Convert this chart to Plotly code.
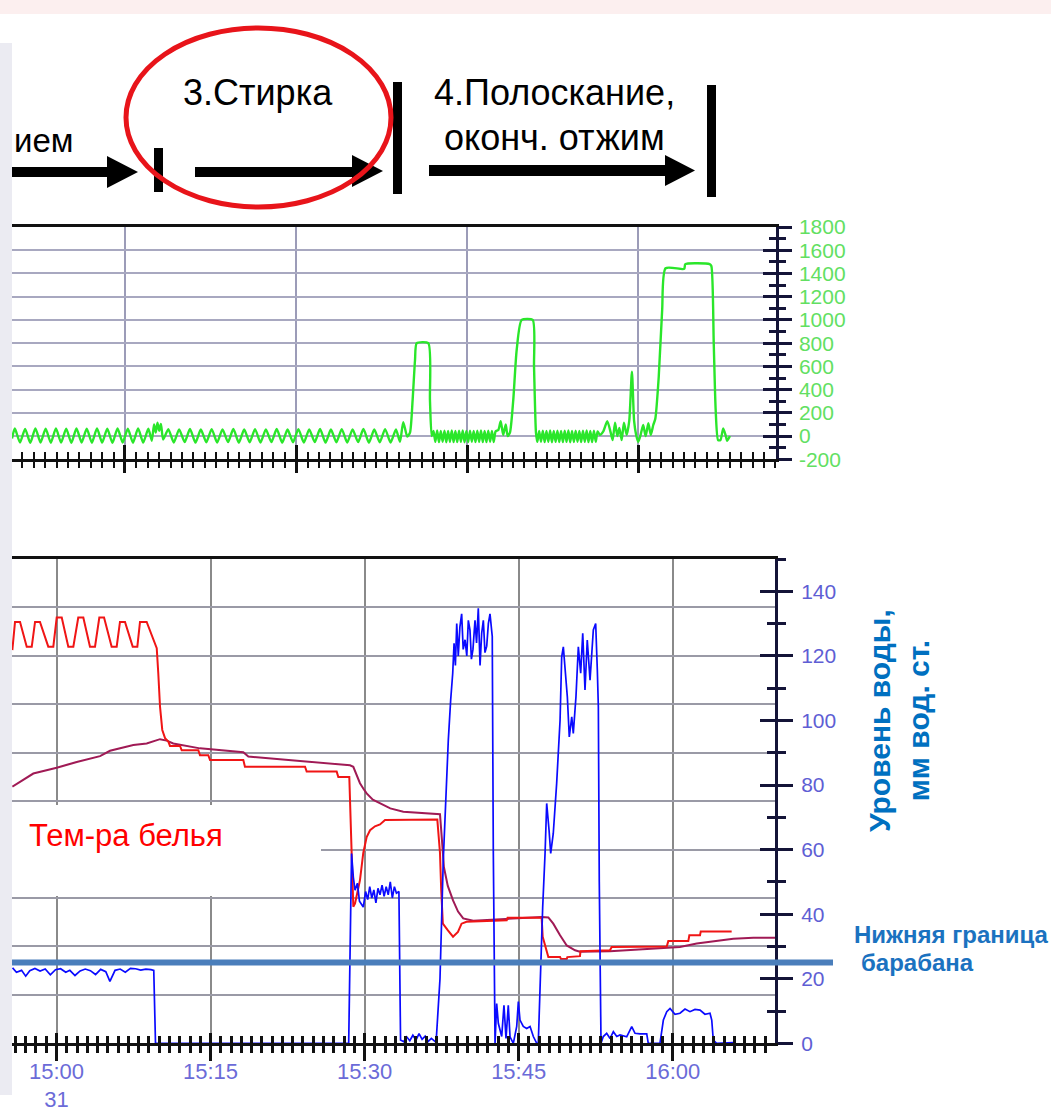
import plotly.graph_objects as go

W, H = 1051, 1115
FONT = "Liberation Sans, Arial, sans-serif"

# ---------------- data ----------------
# top panel: drum speed (rpm); time in minutes from the first grid line
spin_t = [-9.9, -9.65, -9.2, -8.75, -8.3, -7.85, -7.4, -6.95, -6.5, -6.05, -5.6, -5.15, -4.7, -4.25,
          -3.8, -3.35, -2.9, -2.45, -2.0, -1.55, -1.1, -0.65, -0.2, 0.25, 0.7, 1.15, 1.6, 2.05,
          2.35, 2.55, 2.7, 2.85, 3.0, 3.15, 3.35,
          3.8, 4.28, 4.75, 5.23, 5.7, 6.18, 6.65, 7.13, 7.6, 8.08, 8.55, 9.03, 9.5, 9.98, 10.45, 10.93,
          11.4, 11.88, 12.35, 12.83, 13.3, 13.78, 14.25, 14.73, 15.2, 15.68, 16.15, 16.63, 17.1, 17.58,
          18.05, 18.53, 19.0, 19.48, 19.95, 20.43, 20.9, 21.38, 21.85, 22.33, 22.8, 23.28, 23.75, 24.1,
          24.39, 24.74, 24.98, 25.21, 25.42, 25.57, 26.58, 26.73, 26.88,
          27.04, 27.2, 27.36, 27.52, 27.68, 27.84, 28.0, 28.16, 28.32, 28.48, 28.64, 28.8, 28.96, 29.12,
          29.28, 29.44, 29.6, 29.76, 29.92, 30.08, 30.24, 30.4, 30.56, 30.72, 30.88, 31.04, 31.2, 31.36,
          31.52, 31.68, 31.84, 32.0, 32.16, 32.32, 32.48,
          32.72, 32.93, 33.15, 33.37, 33.54, 33.74, 34.03, 34.33, 34.77, 35.73, 35.85, 36.02, 36.14,
          36.3, 36.46, 36.62, 36.78, 36.94, 37.1, 37.26, 37.42, 37.58, 37.74, 37.9, 38.06, 38.22, 38.38,
          38.54, 38.7, 38.86, 39.02, 39.18, 39.34, 39.5, 39.66, 39.82, 39.98, 40.14, 40.3, 40.46, 40.62,
          40.78, 40.94, 41.1, 41.26, 41.42,
          41.63, 41.92, 42.27, 42.57, 42.74, 42.95, 43.15, 43.33, 43.53, 43.73, 43.97, 44.2, 44.43, 44.62,
          44.8, 44.99, 45.19, 45.42, 45.63, 45.87, 46.08, 46.3, 46.48, 46.78, 47.08, 47.38, 49.01, 49.11,
          51.24, 51.39, 51.6, 51.77, 51.98, 52.19, 52.43, 52.66, 52.78, 53.02]
spin_rpm = [-20, 65, -55, 62, -58, 66, -55, 63, -57, 65, -56, 64, -58, 66,
            -55, 63, -57, 65, -56, 64, -58, 66, -55, 63, -57, 65, -56, 64,
            -40, 100, 30, 115, 45, 105, -30,
            60, -55, 58, -52, 61, -56, 57, -53, 60, -55, 58, -52, 61, -56, 57, -53,
            60, -55, 58, -52, 61, -56, 57, -53, 60, -55, 58, -52, 61, -56,
            57, -53, 60, -55, 58, -52, 61, -56, 57, -53, 60, -55, 58, -50,
            120, -5, 30, 310, 655, 800, 800, 310, 0,
            45, -50, 48, -52, 44, -50, 47, -53, 45, -50, 48, -51, 44, -52,
            46, -50, 48, -53, 45, -51, 47, -50, 44, -52, 46, -50, 48, -51,
            45, -52, 47, -50, 44, -51, 40,
            52, 128, 10, 100, 0, 30, 310, 741, 1000, 1000, 597, 30, -50,
            45, -50, 47, -52, 44, -50, 48, -53, 45, -50, 46, -51, 44, -52,
            47, -50, 48, -53, 45, -51, 47, -50, 44, -52, 46, -50, 48, -51,
            45, -52, 47, -50, 40,
            10, 40, 128, 30, -35, 115, 0, 70, -35, 115, 10, 135, 555, 130,
            10, -50, 10, 95, 0, 110, 10, 95, 150, 511, 1086, 1445, 1440, 1480,
            1480, 1465, 799, 224, -34, -34, 66, 0, -40, 0]

rpm_tick_vals = [-200, 0, 200, 400, 600, 800, 1000, 1200, 1400, 1600, 1800]
rpm_tick_text = ["-200", "0", "200", "400", "600", "800", "1000", "1200", "1400", "1600", "1800"]

# bottom panel: time in minutes after 15:00
linen_t = [-4.30, -4.04, -3.55, -2.90, -2.41, -2.09, -1.61, -0.80, -0.31, 0.02, 0.51, 1.15, 1.64, 2.12,
           2.61, 3.26, 3.75, 4.17, 4.63, 5.37, 5.86, 6.18, 6.67, 7.42, 7.87, 8.13, 8.78, 9.59, 9.76,
           9.91, 10.08, 10.30, 10.57, 10.89, 11.05, 12.03, 12.19, 13.81, 13.97, 14.78, 14.95, 18.19,
           18.35, 24.20, 24.36, 27.28, 27.44, 28.51, 28.73, 28.90, 29.07, 29.55, 29.87, 30.20, 30.53,
           31.01, 31.50, 31.99, 37.08, 37.34, 37.46, 37.62, 38.11, 38.61, 39.09, 39.44, 39.92, 43.84,
           43.92, 47.24, 47.34, 47.73, 47.89, 49.03, 49.12, 49.68, 49.74, 50.97, 51.02, 53.89, 54.06,
           59.42, 59.57, 61.52, 61.62, 62.66, 62.73, 65.74]
linen_temp = [81.2, 87.0, 87.0, 81.9, 81.9, 87.0, 87.0, 81.9, 81.9, 87.9, 87.9, 81.9, 81.9, 87.9,
              87.9, 81.9, 81.9, 87.9, 87.9, 81.9, 81.9, 87.0, 87.0, 81.9, 81.9, 87.0, 87.0, 82.6, 81.6,
              76.4, 69.5, 64.7, 63.0, 62.3, 61.4, 61.4, 60.5, 60.5, 59.5, 59.5, 58.5, 58.5,
              57.1, 57.1, 56.1, 56.1, 55.0, 55.0, 41.9, 28.2, 28.9, 33.7, 39.3, 42.6, 44.0,
              44.8, 45.2, 46.1, 46.2, 39.3, 31.6, 24.7, 23.3, 22.0, 23.0, 24.7, 25.1, 25.4,
              25.9, 25.9, 22.0, 18.9, 17.8, 17.8, 17.4, 17.4, 17.8, 18.0, 19.0, 19.2, 19.9,
              20.0, 21.1, 21.1, 22.3, 22.3, 23.1, 23.1]

water_t = [-4.30, -2.26, 0.02, 1.97, 4.24, 5.21, 7.48, 8.78, 10.08, 10.73, 11.37, 13.97, 18.19, 18.68,
           23.71, 28.58, 28.90, 29.20, 29.55, 29.90, 30.20, 30.80, 31.50, 32.50, 33.77, 37.34, 37.53,
           37.72, 38.10, 38.61, 39.10, 39.60, 40.58, 44.81, 47.24, 47.89, 48.37, 49.03, 49.68, 50.49,
           50.97, 53.89, 59.08, 60.70, 62.34, 63.95, 65.90, 67.85, 69.96]
water_temp = [53.0, 55.7, 56.9, 58.1, 59.3, 60.4, 61.6, 61.9, 62.8, 62.5, 61.9, 60.9, 60.1, 59.2,
              58.3, 57.4, 57.1, 55.6, 53.7, 52.5, 51.6, 50.3, 49.5, 48.5, 47.8, 47.3, 42.0,
              36.4, 32.5, 29.5, 27.2, 25.8, 25.3, 25.8, 26.1, 26.0, 24.7, 22.3, 20.2, 19.2,
              18.9, 19.0, 19.6, 19.9, 20.6, 21.1, 21.6, 21.8, 21.8]

level_t = [-4.28, -3.9, -3.4, -3.0, -2.6, -2.1, -1.6, -1.1, -0.6, -0.1, 0.4, 0.9, 1.3, 1.8, 2.3, 2.8,
           3.3, 3.8, 4.3, 4.8, 5.2, 5.7, 6.2, 6.7, 7.2, 7.7, 8.2, 8.7, 9.2, 9.47, 9.64,
           28.45, 28.73, 28.9, 29.07, 29.3, 29.5, 29.87, 30.1, 30.3, 30.5, 30.7, 30.9, 31.1, 31.3, 31.5,
           31.7, 31.9, 32.1, 32.3, 32.5, 32.7, 32.9, 33.1, 33.34, 33.5,
           33.8, 34.1, 34.4, 34.7, 35.0, 35.3, 35.6, 35.9, 36.2, 36.5, 36.96,
           37.34, 37.66, 37.99, 38.15, 38.38, 38.58, 38.71, 38.84, 38.97, 39.05, 39.12, 39.28, 39.45,
           39.6, 39.78, 39.95, 40.1, 40.26, 40.4, 40.55, 40.75, 40.9, 41.07, 41.24, 41.4, 41.56, 41.72,
           41.89, 42.05, 42.21, 42.43, 42.53, 42.70,
           42.86, 43.02, 43.35, 43.57, 43.77, 43.99, 44.16, 44.48, 44.81, 44.97, 45.13, 45.45, 45.78,
           46.11, 46.43, 46.76, 46.91,
           47.08, 47.34, 47.57, 47.73, 47.96, 48.12, 48.37, 48.70, 49.03, 49.19, 49.35, 49.51, 49.74,
           49.93, 50.17, 50.32, 50.58, 50.81, 51.04, 51.24, 51.46, 51.68, 51.95, 52.27, 52.50, 52.66,
           52.76, 52.85, 53.02,
           53.24, 53.57, 53.90, 54.22, 54.55, 54.87, 55.52, 56.01, 56.33, 56.82, 57.47, 57.62, 58.76,
           59.09, 59.42, 59.74, 60.22, 60.71, 61.20, 61.68, 62.17, 62.66, 63.14, 63.63, 63.80, 63.95,
           64.28, 65.90]
level_mm = [23.4, 22.0, 22.6, 20.8, 22.5, 23.2, 22.4, 23.0, 21.2, 22.8, 23.1, 22.0, 22.6, 21.0, 22.4, 23.0,
            22.5, 21.3, 22.9, 22.2, 19.2, 22.6, 23.0, 22.0, 23.2, 23.1, 22.7, 23.0, 22.8, 22.6, 0,
            0, 58.8, 51.5, 47.4, 49.6, 44.0, 42.2, 47.0, 44.5, 48.5, 45.0, 47.5, 43.5, 48.0, 46.0,
            49.0, 45.5, 48.5, 46.0, 50.0, 45.0, 48.5, 46.5, 47.0, 1.0,
            0.5, 2.0, 0.8, 2.5, 1.0, 3.0, 1.2, 2.2, 0.6, 1.5, 0.3,
            20, 56.7, 83.6, 93.9, 106.3, 114.6, 123.9, 117, 130, 124, 120, 129, 133,
            122, 125, 120, 131, 128, 119, 122, 131, 124, 134.7, 117, 127, 131, 121,
            123, 130, 133, 126, 60, 0,
            12.3, 6.2, 2.1, 11.8, 1.5, 11.8, 2.0, 0, 5.2, 12.9, 7.2, 5.2, 4.6,
            5.2, 2.1, 0, 0,
            20, 42.2, 58.8, 74.3, 66, 58.8, 65, 80.5, 100, 119.7, 122.8, 116.6, 107.3,
            94.9, 101.1, 96, 107.3, 122.8, 114.6, 127, 109.4, 124.9, 112.5, 128, 130, 115.6,
            104.2, 50, 0,
            2.1, 3.1, 1.5, 3.6, 2.1, 2.6, 2.0, 5.2, 3.1, 2.9, 2.9, 0, 0,
            7.2, 9.8, 10.8, 9.0, 9.3, 10.6, 9.8, 10.5, 10.3, 9.0, 9.3, 7.2, 1.0,
            0, 0.2]

drum_bottom_level = 25

x_tick_vals = [0, 15, 30, 45, 60]
x_tick_text = ["15:00<br>31", "15:15", "15:30", "15:45", "16:00"]

# ---------------- helpers (pixel -> paper) ----------------
def px(v):
    return v / W


def py(v):
    return 1 - v / H


TOP_RANGE_X = [-9.9, 57.03]
BOT_RANGE_X = [-4.333, 69.96]
TOP_DOM_X = [px(12), px(775.7)]
TOP_DOM_Y = [py(459.3), py(227)]
BOT_DOM_X = [px(12), px(775)]
BOT_DOM_Y = [py(1043.3), py(559)]

NAVY = "#141438"

fig = go.Figure()

fig.add_trace(go.Scatter(x=spin_t, y=spin_rpm, xaxis="x", yaxis="y", mode="lines",
                         line=dict(color="#2ae62a", width=2.4, shape="spline", smoothing=0.6),
                         hoverinfo="skip"))
fig.add_trace(go.Scatter(x=water_t, y=water_temp, xaxis="x2", yaxis="y2", mode="lines",
                         line=dict(color="#a01a55", width=2), hoverinfo="skip"))
fig.add_trace(go.Scatter(x=linen_t, y=linen_temp, xaxis="x2", yaxis="y2", mode="lines",
                         line=dict(color="#f01515", width=2), hoverinfo="skip"))
fig.add_trace(go.Scatter(x=level_t, y=level_mm, xaxis="x2", yaxis="y4", mode="lines",
                         line=dict(color="#0a0aff", width=1.7), hoverinfo="skip"))
# empty traces so that the twin tick axes are drawn
for xa, ya in [("x3", "y"), ("x", "y3"), ("x4", "y2"), ("x2", "y5")]:
    fig.add_trace(go.Scatter(x=[None], y=[None], xaxis=xa, yaxis=ya, mode="lines",
                             hoverinfo="skip", showlegend=False))

blank = dict(showticklabels=False, showgrid=False, showline=False, zeroline=False, automargin=False)

layout = dict(
    template="none",
    width=W, height=H, autosize=False,
    margin=dict(l=0, r=0, t=0, b=0, pad=0),
    paper_bgcolor="white", plot_bgcolor="white", showlegend=False,
    font=dict(family=FONT),
    # ---- top panel ----
    xaxis=dict(domain=TOP_DOM_X, range=TOP_RANGE_X, anchor="y", tickmode="linear", tick0=0, dtick=15,
               ticks="outside", ticklen=11, tickwidth=2.5, tickcolor="#111", automargin=False,
               showticklabels=False, showgrid=True, gridcolor="#9c9cb8", gridwidth=1.5,
               zeroline=False, showline=True, linecolor="#111", linewidth=3, mirror=True,
               minor=dict(tickmode="linear", tick0=0, dtick=1, ticks="outside", ticklen=6,
                          tickwidth=2, tickcolor="#111", showgrid=False)),
    xaxis3=dict(overlaying="x", anchor="y", range=TOP_RANGE_X, tickmode="linear", tick0=0, dtick=15,
                ticks="inside", ticklen=14, tickwidth=2.5, tickcolor="#111",
                minor=dict(tickmode="linear", tick0=0, dtick=1, ticks="inside", ticklen=7,
                           tickwidth=2, tickcolor="#111", showgrid=False), **blank),
    yaxis=dict(domain=TOP_DOM_Y, range=[-200, 1800], side="right", anchor="x",
               tickmode="array", tickvals=rpm_tick_vals, ticktext=rpm_tick_text,
               ticks="outside", ticklen=13, tickwidth=3, automargin=False,
               tickcolor=NAVY, showline=True, linecolor=NAVY, linewidth=3,
               showgrid=True, gridcolor="#a8a8c0", gridwidth=1.5, zeroline=False,
               tickfont=dict(family=FONT, size=21, color="#62df62"), ticklabelstandoff=3,
               minor=dict(tickmode="linear", tick0=0, dtick=100, ticks="outside", ticklen=7,
                          tickwidth=2.5, tickcolor=NAVY, showgrid=False)),
    yaxis3=dict(overlaying="y", side="right", anchor="x", range=[-200, 1800],
                tickmode="linear", tick0=0, dtick=200, ticks="inside", ticklen=13, tickwidth=3,
                tickcolor=NAVY,
                minor=dict(tickmode="linear", tick0=0, dtick=100, ticks="inside", ticklen=7,
                           tickwidth=2.5, tickcolor=NAVY, showgrid=False), **blank),
    # ---- bottom panel ----
    xaxis2=dict(domain=BOT_DOM_X, range=BOT_RANGE_X, anchor="y2", tickmode="array",
                tickvals=x_tick_vals, ticktext=x_tick_text, automargin=False,
                ticks="outside", ticklen=15, tickwidth=3, tickcolor="#111",
                ticklabelstandoff=-9,
                tickfont=dict(family=FONT, size=22, color="#6b6bd8"),
                showgrid=True, gridcolor="#8a8a8a", gridwidth=1.5, zeroline=False,
                showline=True, linecolor="#111", linewidth=3, mirror=True,
                minor=dict(tickmode="linear", tick0=0, dtick=1, ticks="outside", ticklen=7,
                           tickwidth=2.5, tickcolor="#111", showgrid=False)),
    xaxis4=dict(overlaying="x2", anchor="y2", range=BOT_RANGE_X, tickmode="array",
                tickvals=x_tick_vals, ticks="inside", ticklen=10, tickwidth=3, tickcolor="#111",
                minor=dict(tickmode="linear", tick0=0, dtick=1, ticks="inside", ticklen=7,
                           tickwidth=2.5, tickcolor="#111", showgrid=False), **blank),
    yaxis2=dict(domain=BOT_DOM_Y, range=[0, 100], anchor="x2", side="left", automargin=False,
                tickmode="linear", tick0=0, dtick=10, ticks="", showticklabels=False,
                showgrid=True, gridcolor="#9a9aa6", gridwidth=1.5, showline=False, zeroline=False),
    yaxis4=dict(overlaying="y2", side="right", anchor="x2", range=[0, 150], automargin=False,
                tickmode="linear", tick0=0, dtick=20, ticks="outside", ticklen=15, tickwidth=3,
                tickcolor=NAVY, showline=True, linecolor=NAVY, linewidth=3,
                showgrid=False, zeroline=False, ticklabelstandoff=4,
                tickfont=dict(family=FONT, size=21, color="#5e5ed4"),
                minor=dict(tickmode="linear", tick0=0, dtick=10, ticks="outside", ticklen=8,
                           tickwidth=2.5, tickcolor=NAVY, showgrid=False)),
    yaxis5=dict(overlaying="y2", side="right", anchor="x2", range=[0, 150],
                tickmode="linear", tick0=0, dtick=20, ticks="inside", ticklen=15, tickwidth=3,
                tickcolor=NAVY,
                minor=dict(tickmode="linear", tick0=0, dtick=10, ticks="inside", ticklen=8,
                           tickwidth=2.5, tickcolor=NAVY, showgrid=False), **blank),
)
fig.update_layout(**layout)


def rect(x0, y0, x1, y1, color):
    return dict(type="rect", xref="paper", yref="paper", x0=px(x0), x1=px(x1), y0=py(y0), y1=py(y1),
                fillcolor=color, line=dict(width=0), layer="above")


def tri(xb, ytop, xtip, ymid, ybot):
    path = f"M {px(xb)},{py(ytop)} L {px(xtip)},{py(ymid)} L {px(xb)},{py(ybot)} Z"
    return dict(type="path", xref="paper", yref="paper", path=path,
                fillcolor="black", line=dict(width=0), layer="above")


shapes = [
    rect(0, 0, 1051, 14, "#fcefef"),
    rect(0, 43, 12, 1095, "#ebebf2"),
    # stage arrows and separators
    rect(12, 167, 110, 177, "black"), tri(107, 156, 138, 172, 188),
    rect(154, 148, 163, 192, "black"),
    rect(195, 167, 355, 177, "black"), tri(352, 155, 383, 171, 187),
    rect(393, 82, 402, 194, "black"),
    rect(429, 165, 667, 176, "black"), tri(665, 155, 695, 170.5, 186),
    rect(707, 85, 716, 197, "black"),
    # red ellipse around the washing stage
    dict(type="circle", xref="paper", yref="paper", x0=px(126), x1=px(391), y0=py(28), y1=py(207),
         line=dict(color="#e8141a", width=5), layer="above"),
    # label background
    rect(12, 805, 321, 896, "white"),
    # drum lower boundary
    dict(type="line", xref="paper", yref="y4", x0=px(12), x1=px(833),
         y0=drum_bottom_level, y1=drum_bottom_level,
         line=dict(color="#4a7ebb", width=6), layer="above"),
]
fig.update_layout(shapes=shapes)


def ann(text, x, y, size, color="black", xanchor="center", angle=0, align="center"):
    return dict(text=text, x=px(x), y=py(y), xref="paper", yref="paper", showarrow=False,
                xanchor=xanchor, yanchor="middle", textangle=angle, align=align,
                font=dict(family=FONT, size=size, color=color))


annotations = [
    ann("ием", 12, 140, 33, xanchor="left"),
    ann("3.Стирка", 257.5, 92.5, 36),
    ann("4.Полоскание,", 554, 92.5, 36),
    ann("оконч. отжим", 554.5, 137.5, 36),
    ann("Тем-ра белья", 27, 835.5, 31, color="#ff0000", xanchor="left"),
    ann("<b>Уровень воды,</b><br><b>мм вод. ст.</b>", 899, 721, 30, color="#0070c0", angle=-90),
    ann("<b>Нижняя граница</b>", 852, 934, 24, color="#1b72c0", xanchor="left"),
    ann("<b>барабана</b>", 859, 962, 24, color="#1b72c0", xanchor="left"),
]
fig.update_layout(annotations=annotations)

fig.write_html("out.html", config={"displayModeBar": False},
               post_script="document.body.style.margin='0';document.documentElement.style.overflow='hidden';")
